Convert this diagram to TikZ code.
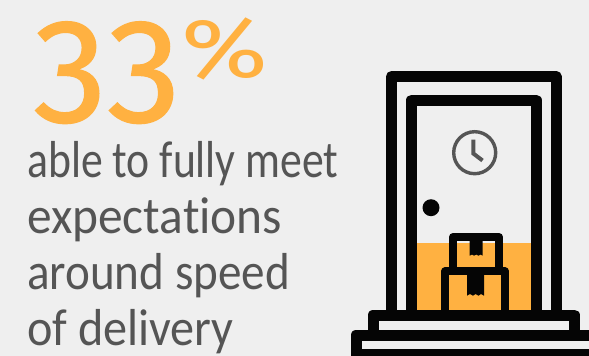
\documentclass[tikz,border=0pt]{standalone}
\usepackage{fontspec}
\setmainfont{Fira Sans}
\newfontfamily\numfont[FakeBold=.8]{Fira Sans}
\newfontfamily\bodyfont[Ligatures=NoCommon]{Carlito}
\definecolor{bg}{HTML}{EFEFEF}
\definecolor{accent}{HTML}{FFB141}
\definecolor{ink}{HTML}{555555}
\definecolor{dark}{HTML}{050505}
\tikzset{
  body/.style={anchor=base west,inner sep=0pt,text=ink,font=\bodyfont\fontsize{52}{52}\selectfont},
  big/.style={anchor=base west,inner sep=0pt,text=accent},
  frame/.style={draw=dark,line width=11pt,line join=round},
  boxline/.style={draw=dark,line width=7.8pt,line join=round},
  tape/.style={fill=dark,draw=none}
}
\begin{document}
\begin{tikzpicture}[x=1pt,y=-1pt]
\useasboundingbox (0,0) rectangle (589,356);
\fill[bg] (0,0) rectangle (589,356);
% text
\node[big,font=\numfont\fontsize{148}{148}\selectfont,xscale=1.0] (num) at (33,122) {33};
\node[big,font=\fontsize{84}{84}\selectfont,xscale=1.25] (pct) at (181,77) {\%};
\node[body,xscale=.84] (l1) at (27,177) {able to fully meet};
\node[body,xscale=.95] (l2) at (27,233) {expectations};
\node[body,xscale=.906] (l3) at (27,289) {around speed};
\node[body,xscale=.927] (l4) at (27,345) {of delivery};
% door
\fill[accent] (417,243) rectangle (531,310);
\draw[frame] (391.5,315) -- (391.5,76.5) -- (556,76.5) -- (556,315);
\draw[frame] (411.5,315) -- (411.5,100) -- (536,100) -- (536,315);
% clock
\draw[ink,line width=3.4pt] (474.7,152.7) circle (21);
\draw[ink,line width=4pt,line join=miter] (473.3,139.5) -- (473.3,153.5) -- (482.5,160.5);
% knob
\fill[dark] (431,207.7) circle (8.5);
% boxes
\fill[accent] (457,243) rectangle (495,270);
\fill[bg] (457,241) rectangle (495,243);
\draw[boxline] (453,272) -- (453,237) -- (499,237) -- (499,272);
\path[tape] (469.7,240) -- (482.7,240) -- (482.7,255.7) -- (480.5,254.5) -- (478.5,255.7) -- (476.2,254.5) -- (474,255.7) -- (472,254.5) -- (469.7,255.7) -- cycle;
\fill[accent] (449,275) rectangle (501,310);
\draw[boxline] (445,312) -- (445,271.3) -- (505,271.3) -- (505,312);
\path[tape] (467,274) -- (484,274) -- (484,295.7) -- (481,294) -- (478.5,295.7) -- (475.5,294) -- (473,295.7) -- (470,294) -- (467,295.7) -- cycle;
% steps
\draw[frame] (373,335) -- (373,315) -- (574.5,315) -- (574.5,335);
\draw[frame] (356,360) -- (356,335) -- (595,335);
\draw[frame] (356,354.7) -- (595,354.7);
\end{tikzpicture}
\end{document}
